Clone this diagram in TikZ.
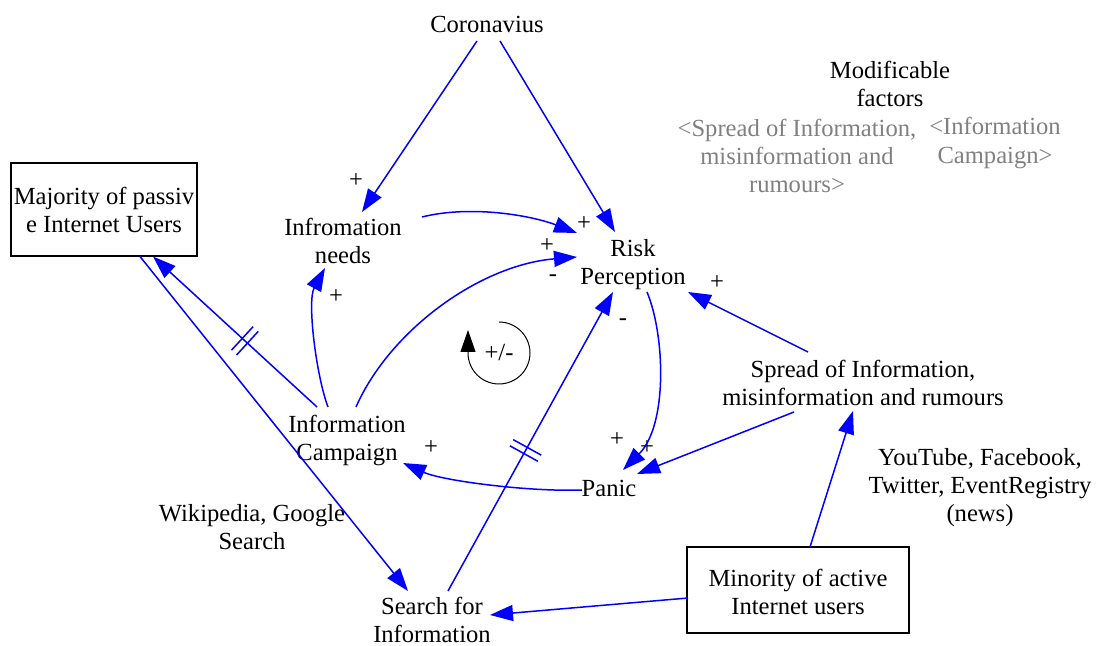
\documentclass[tikz,border=0pt]{standalone}
\usepackage{fontspec}
\setmainfont{Liberation Serif}
\usetikzlibrary{arrows.meta,calc,decorations.markings}
\begin{document}
\begin{tikzpicture}[x=0.5pt,y=-0.5pt,
  every node/.style={font=\fontsize{12.3pt}{14pt}\selectfont, inner sep=0pt, align=center},
  conn/.style={blue, line width=0.75pt, -{Triangle[length=11.5pt,width=8pt]}},
  box/.style={draw, line width=1.3pt},
  greytext/.style={text=black!50},
  delaymark/.style={postaction={decorate}, decoration={markings, mark=at position #1 with {\draw[blue,line width=0.75pt,-] (-1.75pt,-8pt)--(-1.75pt,8pt) (1.75pt,-8pt)--(1.75pt,8pt);}}}
]
\useasboundingbox (0,0) rectangle (1099,646);

% nodes
\node (coro) at (487,24) {Coronavius};
\node (mod) at (890,84) {Modificable\\factors};
\node[greytext] (g1) at (797,156) {<Spread of Information,\\misinformation and\\rumours>};
\node[greytext] (g2) at (995,143) {<Information\\Campaign>};
\node[box, minimum width=93pt, minimum height=46.5pt] (maj) at (104,209.5) {Majority of passiv\\e Internet Users};
\node (needs) at (343,241) {Infromation\\needs};
\node (risk) at (633,265) {Risk\\Perception};
\node (camp) at (347,440) {Information\\Campaign};
\node (panic) at (609,488) {Panic};
\node (spread) at (863,383) {Spread of Information,\\misinformation and rumours};
\node (yt) at (980,488) {YouTube, Facebook,\\Twitter, EventRegistry\\(news)};
\node (wiki) at (252,527) {Wikipedia, Google\\Search};
\node (search) at (432,620) {Search for\\Information};
\node[box, minimum width=111pt, minimum height=43pt] (minor) at (798,590) {\rule{0pt}{11pt}Minority of active\\Internet users};

% signs
\node (s1) at (356,181) {+};
\node (s2) at (584,224) {+};
\node (s3) at (547,246) {+};
\node (s4) at (553,278) {-};
\node (s5) at (336,297) {+};
\node (s6) at (717,283) {+};
\node (s7) at (623,322) {-};
\node (s8) at (617,440) {+};
\node (s9) at (647,448) {+};
\node (s10) at (431,448) {+};

% connectors
\draw[conn] ($(coro)+(-10,17)$) -- ($(needs)+(19,-29)$);
\draw[conn] ($(coro)+(13,17)$) -- ($(risk)+(-18,-33)$);
\draw[conn] ($(needs)+(79,-24)$) .. controls (470,205) and (530,215) .. ($(risk)+(-56,-32)$);
\draw[conn] ($(camp)+(9,-33)$) .. controls (390,330) and (480,265) .. ($(risk)+(-56,-8)$);
\draw[conn] ($(camp)+(-19,-33)$) .. controls (316,375) and (307,301) .. ($(needs)+(-18,27)$);
\draw[conn, delaymark=0.44] ($(camp)+(-30,-33)$) -- ($(maj)+(49,47)$);
\draw[conn] ($(maj)+(36,47)$) -- ($(search)+(-24,-29)$);
\draw[conn, delaymark=0.47] ($(search)+(16,-29)$) -- ($(risk)+(-20,27)$);
\draw[conn] ($(risk)+(14,27)$) .. controls (665,335) and (668,425) .. ($(panic)+(14,-18)$);
\draw[conn] ($(spread)+(-69,29)$) -- ($(panic)+(28,-14)$);
\draw[conn] ($(spread)+(-55,-31)$) -- ($(risk)+(55,27)$);
\draw[conn] ($(panic)+(-27,2)$) .. controls (530,492) and (443,481) .. ($(camp)+(56,23)$);
\draw[conn] ($(minor)+(-110,8)$) -- ($(search)+(58,-5)$);
\draw[conn] ($(minor)+(12,-43)$) -- ($(spread)+(-10,28)$);

% loop symbol
\node (loopc) at (499,353) {+/-};
\draw[line width=0.5pt, -{Triangle[length=11pt,width=7.5pt]}] ($(loopc)+(0,-31)$) arc[start angle=270, end angle=540, radius=31] -- ++(0,-23);
\end{tikzpicture}
\end{document}
